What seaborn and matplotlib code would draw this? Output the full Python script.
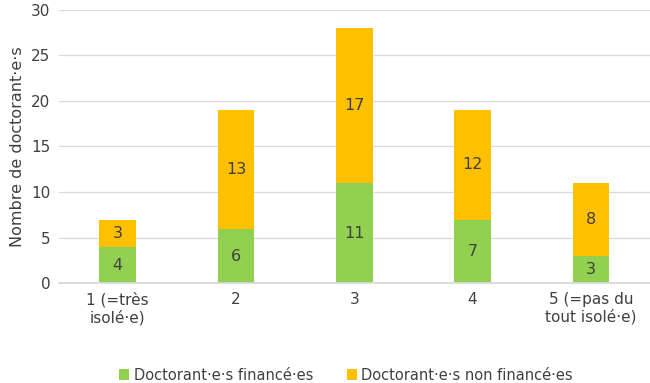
import matplotlib.pyplot as plt
import seaborn as sns
import pandas as pd

# Data
categories = ["1 (=très\nisolé·e)", "2", "3", "4", "5 (=pas du\ntout isolé·e)"]
finances = [4, 6, 11, 7, 3]
non_finances = [3, 13, 17, 12, 8]

green = "#92D050"
orange = "#FFC000"
txt = "#404040"

sns.set_theme(style="white")
plt.rcParams['font.family'] = ['DejaVu Sans']

df = pd.DataFrame({"cat": categories, "fin": finances, "nonfin": non_finances})
df["total"] = df["fin"] + df["nonfin"]

fig, ax = plt.subplots(figsize=(6.5, 3.83), dpi=100)

# total bar first (orange), then green over it
sns.barplot(data=df, x="cat", y="total", color=orange, width=0.31,
            saturation=1, linewidth=0, ax=ax, label="Doctorant·e·s non financé·es")
sns.barplot(data=df, x="cat", y="fin", color=green, width=0.31,
            saturation=1, linewidth=0, ax=ax, label="Doctorant·e·s financé·es")

# centred labels
bars_total = ax.containers[0]
bars_fin = ax.containers[1]
for b, nf in zip(bars_total, df["nonfin"]):
    y0 = b.get_height() - nf
    ax.text(b.get_x() + b.get_width() / 2, y0 + nf / 2, str(nf),
            ha="center", va="center", fontsize=11.5, color=txt)
ax.bar_label(bars_fin, label_type="center", fontsize=11.5, color=txt)

ax.set_ylim(0, 30)
ax.set_yticks(range(0, 31, 5))
ax.yaxis.grid(True, color="#D9D9D9", linewidth=0.9)
ax.set_axisbelow(True)
for s in ["top", "right", "left"]:
    ax.spines[s].set_visible(False)
ax.spines["bottom"].set_color("#D9D9D9")
ax.tick_params(axis="both", length=0, labelsize=11, colors=txt, pad=6)
ax.set_xlabel("")
ax.set_ylabel("Nombre de doctorant·e·s", fontsize=11.5, color=txt)

handles, labels = ax.get_legend_handles_labels()
order = [1, 0]
ax.legend([handles[i] for i in order], [labels[i] for i in order],
          loc="lower center", bbox_to_anchor=(0.486, -0.41), ncol=2,
          frameon=False, fontsize=10.5, handlelength=0.7, handleheight=0.7,
          handletextpad=0.3, columnspacing=2.3, labelcolor=txt)

plt.subplots_adjust(left=0.09, right=1.0, top=0.975, bottom=0.26)
plt.savefig("out.png", dpi=100)
